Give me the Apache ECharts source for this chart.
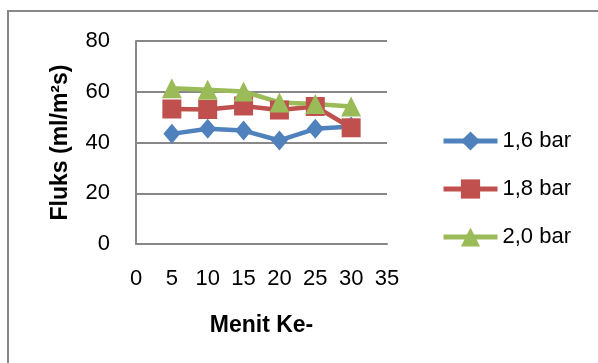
<!DOCTYPE html>
<html>
<head>
<meta charset="utf-8">
<script src="https://cdn.jsdelivr.net/npm/echarts@6/dist/echarts.min.js"></script>
<style>
  html, body { margin: 0; padding: 0; background: #fff; }
  #chart { width: 598px; height: 363px; }
</style>
</head>
<body>
<div id="chart"></div>
<script>
// Flux over time at three pressures
const minutes = [5, 10, 15, 20, 25, 30];
const flux16 = [43.4, 45.4, 44.7, 40.8, 45.4, 46.3];
const flux18 = [53.2, 53.0, 54.4, 52.8, 54.2, 45.8];
const flux20 = [61.4, 60.8, 60.1, 55.8, 55.2, 54.2];
const seriesNames = ['1,6 bar', '1,8 bar', '2,0 bar'];

const FONT = '"Liberation Sans", Arial, sans-serif';
const GRAY = '#888888';

function pairs(ys) {
  return minutes.map((m, i) => [m, ys[i]]);
}

const chart = echarts.init(document.getElementById('chart'), null, { renderer: 'canvas' });

chart.setOption({
  animation: false,
  backgroundColor: '#ffffff',
  graphic: [{
    type: 'rect',
    shape: { x: 8, y: 11, width: 700, height: 500 },
    style: { fill: 'none', stroke: GRAY, lineWidth: 2 },
    silent: true,
    z: 0
  }],
  grid: { left: 136, right: 211, top: 41, bottom: 119 },
  xAxis: {
    type: 'value',
    min: 0, max: 35, interval: 5,
    name: 'Menit Ke-',
    nameLocation: 'middle',
    nameGap: 70,
    nameTextStyle: { fontFamily: FONT, fontSize: 23, fontWeight: 'bold', color: '#000' },
    axisLine: { lineStyle: { color: GRAY, width: 2 } },
    axisTick: { show: false },
    axisLabel: { margin: 24, fontFamily: FONT, fontSize: 22, color: '#000' },
    splitLine: { show: false }
  },
  yAxis: {
    type: 'value',
    min: 0, max: 80, interval: 20,
    name: 'Fluks (ml/m\u00b2s)',
    nameLocation: 'middle',
    nameGap: 64,
    nameRotate: 90,
    nameTextStyle: { fontFamily: FONT, fontSize: 23, fontWeight: 'bold', color: '#000' },
    axisLine: { show: true, lineStyle: { color: GRAY, width: 2 } },
    axisTick: { show: false },
    axisLabel: { margin: 26, fontFamily: FONT, fontSize: 22, color: '#000' },
    splitLine: { show: true, lineStyle: { color: GRAY, width: 2 } }
  },
  legend: {
    orient: 'vertical',
    left: 441,
    top: 130,
    padding: 0,
    itemWidth: 54,
    itemHeight: 24,
    itemGap: 26,
    lineStyle: { width: 5 },
    textStyle: { fontFamily: FONT, fontSize: 22, color: '#000' },
    data: seriesNames
  },
  series: [
    {
      name: seriesNames[0], type: 'line', data: pairs(flux16),
      color: '#4F81BD',
      lineStyle: { width: 4.5, color: '#4F81BD' },
      symbol: 'diamond', symbolSize: [17, 20],
      itemStyle: { color: '#4F81BD' }
    },
    {
      name: seriesNames[1], type: 'line', data: pairs(flux18),
      color: '#C0504D',
      lineStyle: { width: 4.5, color: '#C0504D' },
      symbol: 'rect', symbolSize: 19,
      itemStyle: { color: '#C0504D' }
    },
    {
      name: seriesNames[2], type: 'line', data: pairs(flux20),
      color: '#9BBB59',
      lineStyle: { width: 4.5, color: '#9BBB59' },
      symbol: 'triangle', symbolSize: 20,
      itemStyle: { color: '#9BBB59' }
    }
  ]
});
</script>
</body>
</html>
